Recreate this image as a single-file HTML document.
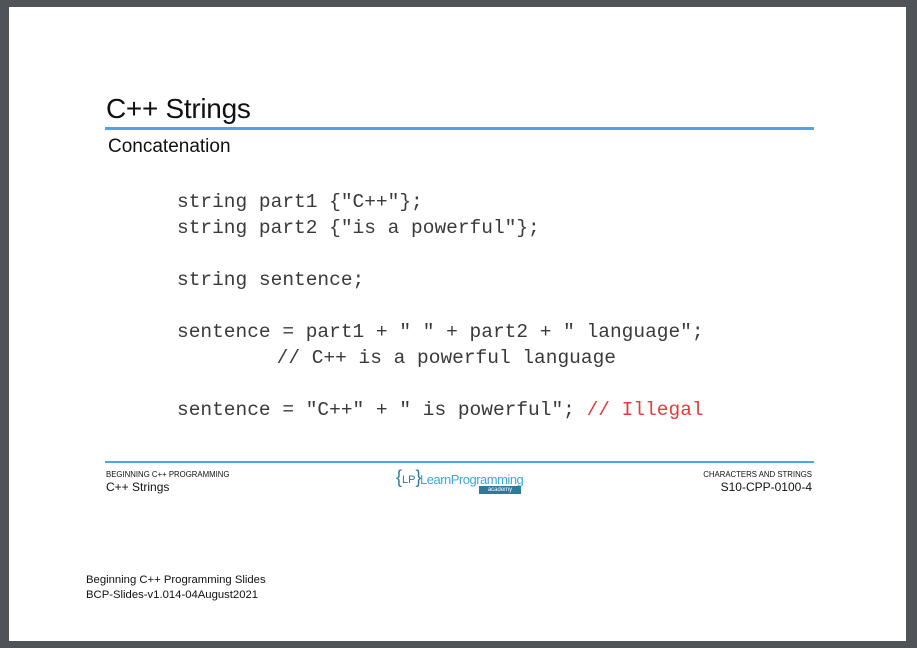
<!DOCTYPE html>
<html><head><style>
body{margin:0;width:917px;height:648px;background:#505458;position:relative;overflow:hidden;font-family:"Liberation Sans",sans-serif}
.page{position:absolute;left:9px;top:7px;width:897px;height:634px;background:#fff}
.a{position:absolute;white-space:pre;color:#111}
.code{font-family:"Liberation Mono",monospace;font-size:19.5px;color:#3a3a3a;left:177px}
</style></head><body>
<div class="page"></div>
<div class="a" style="left:106px;top:93px;font-size:28px;letter-spacing:-0.3px">C++ Strings</div>
<div style="position:absolute;left:105px;top:127px;width:709px;height:3px;background:#4da3f0"></div>
<div class="a" style="left:108px;top:136px;font-size:19px;">Concatenation</div>
<div class="a code" style="top:191px">string part1 {"C++"};</div>
<div class="a code" style="top:217px">string part2 {"is a powerful"};</div>
<div class="a code" style="top:269px">string sentence;</div>
<div class="a code" style="top:321px">sentence = part1 + " " + part2 + " language";</div>
<div class="a code" style="top:347px;left:183px">        // C++ is a powerful language</div>
<div class="a code" style="top:399px">sentence = "C++" + " is powerful"; <span style="color:#e8393a">// Illegal</span></div>
<div style="position:absolute;left:105px;top:461px;width:709px;height:2px;background:#4da3f0"></div>
<div class="a" style="left:106px;top:470px;font-size:7.8px;">BEGINNING C++ PROGRAMMING</div>
<div class="a" style="left:106px;top:480px;font-size:12px;">C++ Strings</div>
<div class="a" style="right:105px;top:470px;font-size:7.8px;text-align:right">CHARACTERS AND STRINGS</div>
<div class="a" style="right:105px;top:480px;font-size:12px;text-align:right">S10-CPP-0100-4</div>
<div class="a" style="left:396px;top:467px;font-size:18px;color:#2a7c9a">{<span style="font-size:11px">LP</span>}</div>
<div class="a" style="left:420px;top:472px;font-size:13px;color:#3aaad8;letter-spacing:-0.5px">LearnProgramming</div>
<div style="position:absolute;left:479px;top:486px;width:42px;height:8px;background:#2a7c9a;color:#fff;font-size:6px;text-align:center;line-height:8px">academy</div>
<div class="a" style="left:86px;top:574px;font-size:11.3px;">Beginning C++ Programming Slides</div>
<div class="a" style="left:86px;top:589px;font-size:11.3px;">BCP-Slides-v1.014-04August2021</div>
</body></html>
